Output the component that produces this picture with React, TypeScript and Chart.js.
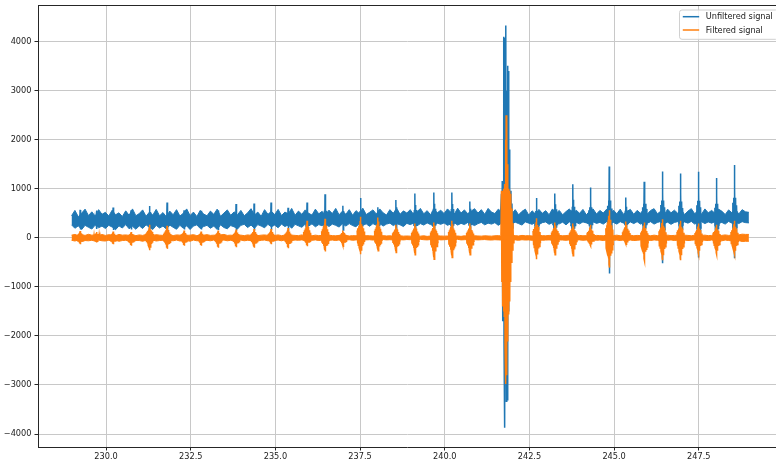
import React, { useEffect, useRef } from "react";
import { Chart, registerables } from "chart.js";

Chart.register(...registerables);

// ---------- data ----------
// background noise band, sampled every BAND_STEP seconds from BAND_START
const BAND_START = 228.98;
const BAND_STEP = 0.1;

const blueHi = [
  450, 560, 430, 505, 585, 455, 530, 440, 575, 480,
  520, 445, 565, 470, 510, 435, 550, 460, 590, 450,
  495, 570, 440, 525, 465, 580, 450, 515, 430, 545,
  470, 575, 445, 500, 590, 455, 525, 435, 560, 485,
  450, 545, 480, 585, 440, 505, 570, 460, 530, 470,
  560, 450, 510, 595, 465, 525, 440, 575, 480, 540,
  475, 580, 455, 525, 490, 600, 460, 545, 480, 570,
  500, 465, 585, 490, 540, 450, 565, 495, 600, 470,
  545, 480, 575, 460, 555, 495, 605, 475, 520, 570,
  485, 590, 510, 465, 575, 500, 600, 480, 550, 505,
  575, 475, 530, 600, 490, 555, 470, 590, 510, 565,
  495, 590, 520, 480, 605, 505, 570, 490, 545, 595,
  505, 575, 480, 600, 525, 495, 585, 530, 500, 570,
  490, 575, 470, 540, 585, 465, 550, 485, 580, 500,
  555, 470, 590, 495, 560, 470, 535, 590, 480, 565,
  500, 580, 470, 545, 590, 485, 560, 505, 585, 470,
  565, 490, 585, 475, 540, 580, 480, 560, 500, 590,
  485, 560, 595, 490, 545, 470, 585, 510, 565, 500,
  580, 475, 545, 595, 490, 565, 480, 590, 510, 560,
  500, 585, 545, 475, 570, 510, 595, 485, 575, 530,
  520,
];

const blueLo = [
  265, 195, 245, 170, 255, 215, 180, 260, 205, 240,
  190, 255, 220, 165, 245, 200, 270, 185, 235, 175,
  245, 190, 265, 215, 170, 255, 200, 240, 180, 260,
  215, 175, 255, 195, 245, 170, 240, 265, 190, 230,
  255, 195, 240, 170, 265, 210, 185, 250, 225, 180,
  255, 275, 210, 260, 195, 270, 240, 205, 275, 225,
  260, 205, 280, 230, 265, 195, 275, 245, 215, 280,
  240, 285, 225, 270, 245, 290, 230, 280, 255, 220,
  285, 240, 290, 250, 225, 295, 255, 285, 235, 290,
  255, 295, 240, 280, 300, 250, 290, 265, 230, 295,
  270, 300, 245, 290, 260, 305, 270, 240, 300, 275,
  305, 255, 285, 310, 260, 295, 270, 315, 280, 250,
  290, 315, 265, 300, 280, 310, 255, 300, 280, 310,
  280, 320, 290, 260, 325, 300, 275, 320, 270, 310,
  325, 275, 310, 330, 285, 320, 265, 325, 295, 315,
  285, 325, 305, 275, 330, 295, 315, 280, 330, 300,
  315, 280, 330, 300, 270, 325, 290, 330, 280, 315,
  300, 330, 280, 315, 335, 290, 320, 275, 315, 330,
  290, 325, 300, 335, 280, 315, 330, 290, 325, 300,
  330, 290, 315, 280, 335, 300, 320, 290, 330, 310,
  305,
];

const orangeHi = [
  55, 70, 45, 65, 50, 72, 55, 60, 45, 68,
  50, 65, 55, 45, 70, 55, 60, 50, 65, 45,
  60, 50, 70, 55, 45, 65, 55, 50, 60, 70,
  45, 60, 55, 70, 50, 55, 65, 45, 60, 55,
  65, 50, 55, 45, 60, 70, 50, 55, 45, 60,
  55, 45, 60, 50, 65, 45, 55, 60, 50, 45,
  50, 60, 45, 55, 42, 55, 50, 45, 60, 42,
  45, 42, 55, 45, 50, 42, 55, 45, 42, 50,
  42, 50, 38, 45, 42, 50, 38, 45, 42, 38,
  42, 35, 45, 38, 42, 35, 38, 42, 35, 38,
  35, 42, 38, 35, 42, 30, 38, 35, 42, 38,
  35, 38, 42, 35, 38, 30, 42, 35, 38, 42,
  38, 35, 42, 38, 35, 42, 45, 38, 42, 45,
  42, 45, 38, 50, 42, 45, 38, 42, 50, 45,
  42, 50, 45, 38, 50, 42, 45, 55, 42, 45,
  50, 42, 45, 55, 42, 50, 45, 42, 55, 45,
  45, 55, 42, 50, 45, 55, 42, 50, 45, 55,
  50, 42, 55, 45, 50, 42, 55, 45, 50, 55,
  45, 55, 50, 42, 55, 45, 50, 55, 45, 50,
  55, 45, 50, 60, 50, 55, 65, 60, 75, 70,
  70,
];

const orangeLo = [
  -50, -65, -45, -72, -55, -60, -50, -68, -45, -60,
  -65, -50, -60, -45, -70, -55, -50, -65, -45, -55,
  -55, -70, -50, -60, -45, -65, -55, -50, -70, -55,
  -60, -45, -65, -55, -50, -70, -45, -60, -55, -65,
  -50, -60, -45, -65, -55, -45, -60, -50, -65, -55,
  -45, -60, -50, -55, -45, -65, -50, -45, -60, -50,
  -55, -45, -60, -42, -50, -55, -45, -50, -42, -55,
  -45, -50, -42, -55, -45, -42, -50, -45, -55, -42,
  -42, -45, -38, -50, -42, -38, -45, -42, -38, -45,
  -38, -42, -35, -42, -38, -45, -35, -38, -42, -35,
  -38, -35, -42, -30, -38, -42, -35, -38, -30, -42,
  -38, -35, -42, -38, -30, -42, -38, -35, -42, -38,
  -42, -38, -35, -42, -45, -38, -42, -45, -38, -42,
  -45, -42, -50, -38, -45, -42, -50, -45, -42, -50,
  -45, -42, -50, -55, -42, -45, -50, -42, -55, -45,
  -42, -50, -45, -55, -42, -50, -45, -55, -42, -50,
  -50, -45, -55, -42, -50, -45, -55, -50, -42, -55,
  -45, -55, -42, -50, -55, -45, -50, -42, -55, -45,
  -50, -45, -55, -50, -42, -55, -45, -50, -55, -45,
  -55, -50, -60, -45, -55, -60, -65, -55, -75, -70,
  -70,
];

// heart-beat events (time in s)
const beatTimes = [
  229.233, 229.72, 230.207, 230.738, 231.284, 231.8, 232.302, 232.804, 233.306, 233.837,
  234.368, 234.87, 235.372, 235.933, 236.464, 236.995, 237.512, 238.028, 238.56, 239.121,
  239.681, 240.213, 240.744,
  242.706, 243.252, 243.784, 244.3, 244.855, 245.348, 245.888, 246.425, 246.957, 247.488,
  248.02, 248.55,
];
const bluePeaks = [
  570, 560, 620, 560, 650, 720, 560, 550, 560, 690,
  700, 720, 612, 720, 890, 653, 810, 625, 770, 905,
  925, 925, 740,
  810, 905, 1095, 1027, 1455, 823, 1143, 1353, 1313, 1347,
  1218, 1483,
];
const blueTroughs = [
  170, 180, 160, 170, 140, 130, 170, 170, 160, 150,
  150, 160, 140, 80, 40, 160, 20, 40, 80, 60,
  0, 20, 40,
  -150, -100, -120, 60, -728, 80, -200, -517, -200, -402,
  -150, -415,
];
const orangeTops = [
  140, 120, 130, 120, 265, 245, 150, 130, 150, 170,
  180, 180, 200, 347, 390, 150, 430, 415, 265, 290,
  312, 347, 290,
  400, 312, 290, 265, 565, 333, 312, 380, 347, 290,
  265, 347,
];
const orangeBottoms = [
  -130, -95, -130, -163, -251, -225, -163, -163, -200, -190,
  -200, -130, -210, -170, -280, -170, -333, -265, -300, -347,
  -435, -400, -347,
  -435, -347, -367, -163, -605, -130, -470, -455, -455, -333,
  -333, -333,
];

// shape of one beat: [time offset s, fraction of peak (+) or trough (-)]
const blueSpikeShape = [
  [-0.06, -0.3], [-0.045, 0.25], [-0.03, -0.45], [-0.018, 0.35], [-0.008, -0.5],
  [0.0, 1.0], [0.006, -1.0], [0.014, 0.55], [0.024, -0.6], [0.036, 0.35],
  [0.05, -0.4], [0.065, 0.2], [0.08, -0.3],
];
const orangeBurstShape = [
  [-0.1, 0.35], [-0.09, -0.35], [-0.075, 0.45], [-0.065, -0.45], [-0.05, 0.55],
  [-0.04, -0.6], [-0.03, 0.65], [-0.02, -0.7], [-0.012, 0.8], [-0.005, -0.9],
  [0.0, 1.0], [0.006, -1.0], [0.012, 0.8], [0.02, -0.75], [0.03, 0.65],
  [0.04, -0.6], [0.05, 0.55], [0.06, -0.5], [0.075, 0.45], [0.09, -0.4],
  [0.105, 0.3], [0.12, -0.25],
];

// the large artefact near 241.8 s
const bigBlueTimes = [
  241.644, 241.674, 241.688, 241.697, 241.706, 241.718, 241.73, 241.741, 241.75, 241.762,
  241.774, 241.786, 241.797, 241.806, 241.818, 241.83, 241.842, 241.853, 241.865, 241.877,
  241.889, 241.9, 241.912, 241.924, 241.939, 241.954, 241.968, 241.983, 241.998, 242.013,
];
const bigBlueValues = [
  420, 900, -300, 1160, -1700, 1000, -1200, 4100, -2150, 4080,
  -3870, 3500, -2600, 4330, -3330, 3000, -3300, 3510, -2000, 3400,
  -1500, 1800, -900, 1000, -300, 960, 0, 700, 200, 450,
];
const bigOrangeTimes = [
  241.659, 241.674, 241.686, 241.697, 241.709, 241.721, 241.733, 241.745, 241.756, 241.768,
  241.78, 241.792, 241.804, 241.812, 241.824, 241.836, 241.848, 241.859, 241.871, 241.883,
  241.895, 241.906, 241.918, 241.93, 241.942, 241.954, 241.968, 241.983, 241.998, 242.013,
  242.027, 242.042,
];
const bigOrangeValues = [
  50, 960, -900, 950, -1400, 960, -1500, 1000, -1600, 1100,
  -2200, 2000, -2980, 2500, -2800, 2400, -2100, 1500, -1550, 1000,
  -1500, 960, -1300, 900, -900, 900, -500, 600, -250, 300,
  -100, 50,
];

const xTicks = [230, 232.5, 235, 237.5, 240, 242.5, 245, 247.5];
const yTicks = [-4000, -3000, -2000, -1000, 0, 1000, 2000, 3000, 4000];

// ---------- style ----------
const BLUE = "#1f77b4";
const ORANGE = "#ff7f0e";
const FONT_FAMILY = '"DejaVu Sans", "Liberation Sans", sans-serif';
const FONT_SIZE = 8.2;
const TEXT = "#1a1a1a";
const GRID = "#c8c8c8";
const SPINE = "#262626";

function bandPoints(values: number[]) {
  return values.map((v, i) => ({ x: +(BAND_START + i * BAND_STEP).toFixed(3), y: v }));
}

function bandIndex(t: number) {
  return Math.max(0, Math.min(blueHi.length - 1, Math.round((t - BAND_START) / BAND_STEP)));
}

function blueBeatPoints() {
  const pts: any[] = [];
  beatTimes.forEach((t, i) => {
    const k = bandIndex(t);
    const base = (blueHi[k] + blueLo[k]) / 2;
    blueSpikeShape.forEach(([dt, f]) => {
      const y = f >= 0 ? base + f * (bluePeaks[i] - base) : base - f * (blueTroughs[i] - base);
      pts.push({ x: t + dt, y });
    });
    pts.push({ x: t + 0.13, y: null });
  });
  return pts;
}

function orangeBeatPoints() {
  const pts: any[] = [];
  beatTimes.forEach((t, i) => {
    orangeBurstShape.forEach(([dt, f]) => {
      const y = f >= 0 ? f * orangeTops[i] : -f * orangeBottoms[i];
      pts.push({ x: t + dt, y });
    });
    pts.push({ x: t + 0.14, y: null });
  });
  return pts;
}

function pairPoints(ts: number[], vs: number[]) {
  return ts.map((t, i) => ({ x: t, y: vs[i] }));
}

const framePlugin = {
  id: "mplFrame",
  afterDraw(chart: any) {
    const { ctx, chartArea } = chart;
    ctx.save();
    // top spine
    ctx.strokeStyle = SPINE;
    ctx.lineWidth = 1;
    ctx.beginPath();
    ctx.moveTo(chartArea.left, Math.round(chartArea.top) + 0.5);
    ctx.lineTo(chartArea.right, Math.round(chartArea.top) + 0.5);
    ctx.stroke();

    // legend (matplotlib style)
    const items = chart.data.datasets.filter((d: any) => d.inLegend);
    ctx.font = `${FONT_SIZE}px ${FONT_FAMILY}`;
    const textW = Math.max(...items.map((d: any) => ctx.measureText(d.label).width));
    const pad = FONT_SIZE * 0.4;
    const handle = FONT_SIZE * 2;
    const gap = FONT_SIZE * 0.8;
    const rowStep = 13.3;
    const x0 = chartArea.right - 96.5;
    const y0 = chartArea.top + 5;
    const w = pad + handle + gap + textW + pad + 2;
    const h = 29.3;
    ctx.beginPath();
    (ctx as any).roundRect(x0, y0, w, h, 2.5);
    ctx.fillStyle = "rgba(255,255,255,0.8)";
    ctx.fill();
    ctx.strokeStyle = "#d0d0d0";
    ctx.lineWidth = 1;
    ctx.stroke();
    items.forEach((d: any, i: number) => {
      const cy = y0 + 6.7 + i * rowStep;
      ctx.strokeStyle = d.borderColor;
      ctx.lineWidth = 1.5;
      ctx.beginPath();
      ctx.moveTo(x0 + pad, cy);
      ctx.lineTo(x0 + pad + handle, cy);
      ctx.stroke();
      ctx.fillStyle = TEXT;
      ctx.textBaseline = "middle";
      ctx.textAlign = "left";
      ctx.fillText(d.label, x0 + pad + handle + gap, cy + 0.5);
    });
    ctx.restore();
  },
};

const font = { family: FONT_FAMILY, size: FONT_SIZE };

function minusFormat(v: number) {
  return v < 0 ? "\u2212" + Math.abs(v) : String(v);
}

export default function App() {
  const ref = useRef<HTMLCanvasElement>(null);

  useEffect(() => {
    const line = { pointRadius: 0, tension: 0, spanGaps: false };
    const chart = new Chart(ref.current as HTMLCanvasElement, {
      type: "line",
      data: {
        datasets: [
          { ...line, label: "Unfiltered signal", inLegend: true, data: bandPoints(blueHi), borderColor: BLUE, backgroundColor: BLUE, borderWidth: 1, fill: "+1", order: 2 } as any,
          { ...line, label: "", data: bandPoints(blueLo), borderColor: BLUE, backgroundColor: BLUE, borderWidth: 1, fill: false, order: 2 },
          { ...line, label: "", data: blueBeatPoints(), borderColor: BLUE, borderWidth: 1.5, fill: false, order: 2 },
          { ...line, label: "", data: pairPoints(bigBlueTimes, bigBlueValues), borderColor: BLUE, borderWidth: 1.5, fill: false, order: 2 },
          { ...line, label: "Filtered signal", inLegend: true, data: bandPoints(orangeHi), borderColor: ORANGE, backgroundColor: ORANGE, borderWidth: 1, fill: "+1", order: 1 } as any,
          { ...line, label: "", data: bandPoints(orangeLo), borderColor: ORANGE, backgroundColor: ORANGE, borderWidth: 1, fill: false, order: 1 },
          { ...line, label: "", data: orangeBeatPoints(), borderColor: ORANGE, borderWidth: 1.5, fill: false, order: 1 },
          { ...line, label: "", data: pairPoints(bigOrangeTimes, bigOrangeValues), borderColor: ORANGE, borderWidth: 1.5, fill: false, order: 1 },
        ],
      },
      options: {
        responsive: false,
        maintainAspectRatio: false,
        devicePixelRatio: 1,
        animation: false,
        events: [],
        layout: { padding: { top: 5, left: 0, right: 0, bottom: 0 } },
        plugins: {
          legend: { display: false },
          tooltip: { enabled: false },
          title: { display: false },
        },
        scales: {
          x: {
            type: "linear",
            min: 227.99,
            max: 249.78,
            afterBuildTicks: (s: any) => {
              s.ticks = xTicks.map((v) => ({ value: v }));
            },
            afterFit: (s: any) => {
              s.height = 17;
              s.paddingLeft = 0;
              s.paddingRight = 0;
            },
            ticks: {
              callback: (v: any) => Number(v).toFixed(1),
              font,
              color: TEXT,
              padding: 1,
              maxRotation: 0,
              autoSkip: false,
            },
            grid: { color: GRID, lineWidth: 1, tickLength: 3.5, tickColor: SPINE, tickWidth: 1 },
            border: { display: true, color: SPINE, width: 1 },
          },
          y: {
            type: "linear",
            min: -4265,
            max: 4748,
            afterBuildTicks: (s: any) => {
              s.ticks = yTicks.map((v) => ({ value: v }));
            },
            afterFit: (s: any) => {
              s.width = 38;
              s.paddingTop = 0;
              s.paddingBottom = 0;
            },
            ticks: {
              callback: (v: any) => minusFormat(Number(v)),
              font,
              color: TEXT,
              padding: 3,
              autoSkip: false,
            },
            grid: { color: GRID, lineWidth: 1, tickLength: 3.5, tickColor: SPINE, tickWidth: 1 },
            border: { display: true, color: SPINE, width: 1 },
          },
        },
      } as any,
      plugins: [framePlugin],
    });
    return () => chart.destroy();
  }, []);

  return (
    <div style={{ position: "fixed", left: 0, top: 0, width: 776, height: 464, background: "#ffffff" }}>
      <canvas ref={ref} width={776} height={464} style={{ display: "block", width: 776, height: 464 }} />
    </div>
  );
}
